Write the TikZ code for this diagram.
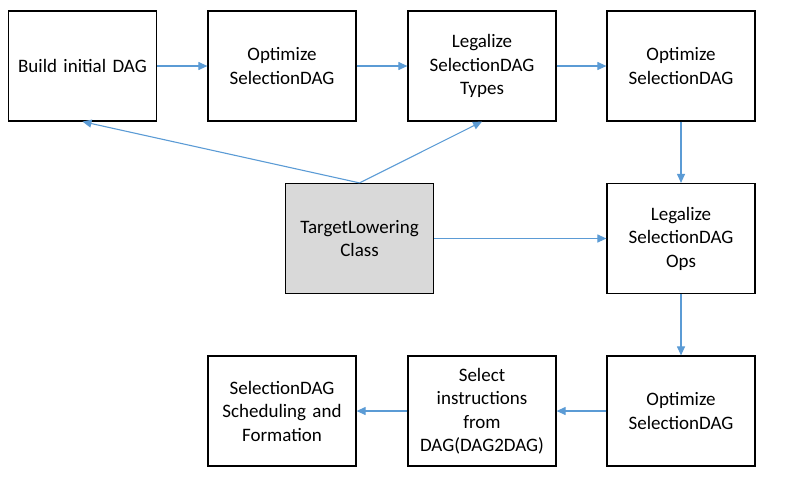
\documentclass[tikz,border=0pt]{standalone}
\usepackage{fontspec}
\setmainfont{Carlito}
\usetikzlibrary{arrows.meta,positioning}
\definecolor{flowblue}{HTML}{5B9BD5}
\definecolor{stepgray}{HTML}{D9D9D9}

\begin{document}
\begin{tikzpicture}[
    x=1pt, y=1pt,
    font=\fontsize{19}{23.5}\selectfont,
    stage/.style={draw=black, line width=1.2pt, align=center, text width=144pt,
      minimum width=148pt, minimum height=110pt, inner sep=0pt, fill=white},
    target/.style={stage, fill=stepgray},
    flow/.style={-{Triangle[length=9pt,width=8pt]}, line width=1.1pt, draw=flowblue}
  ]
    \useasboundingbox (0,0) rectangle (786,-491);

    % top row
    \node[stage] (build) at (82.5,-66) {Build initial DAG};
    \node[stage] (opta) at (282,-66) {Optimize\\SelectionDAG};
    \node[stage] (types) at (482,-66) {Legalize\\SelectionDAG\\Types};
    \node[stage] (optb) at (681,-66) {Optimize\\SelectionDAG};

    % middle row
    \node[target] (lowering) at (359.5,-238.5) {TargetLowering\\Class};
    \node[stage] (ops) at (681,-238.5) {Legalize\\SelectionDAG\\Ops};

    % bottom row
    \node[stage] (optc) at (681,-411) {Optimize\\SelectionDAG};
    \node[stage] (select) at (482,-411) {Select\\instructions\\from\\DAG(DAG2DAG)};
    \node[stage] (sched) at (282,-411) {SelectionDAG\\Scheduling and\\Formation};

    \draw[flow] (build) -- (opta);
    \draw[flow] (opta) -- (types);
    \draw[flow] (types) -- (optb);
    \draw[flow] (optb) -- (ops);
    \draw[flow] (ops) -- (optc);
    \draw[flow] (optc) -- (select);
    \draw[flow] (select) -- (sched);
    \draw[flow] (lowering) -- (ops);
    \draw[flow] (lowering.north) -- (build.south);
    \draw[flow] (lowering.north) -- (types.south);
  \end{tikzpicture}
\end{document}
